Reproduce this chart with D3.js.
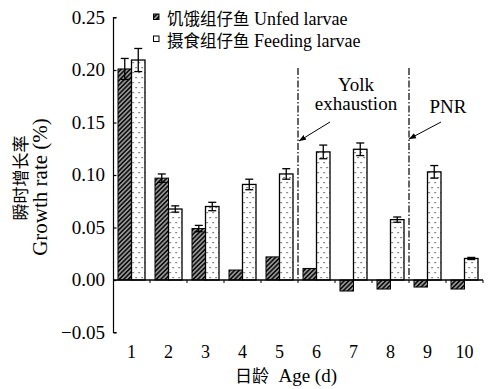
<!DOCTYPE html>
<meta charset="utf-8">
<style>
body { margin: 0; background: #fff; }
text { font-family: "Liberation Serif", "Times New Roman", serif; fill: #000; }
.cn { font-family: "Noto Sans CJK SC", sans-serif; }
</style>
<body>
<script src="https://d3js.org/d3.v7.min.js"></script>
<script>

var width = 490,
    height = 389;

// data
var days = [1, 2, 3, 4, 5, 6, 7, 8, 9, 10];
var unfed = [0.201, 0.097, 0.049, 0.0095, 0.022, 0.011, -0.0105, -0.0086, -0.0067, -0.0086];
var unfedErr = [0.010, 0.004, 0.003, 0, 0, 0, 0, 0, 0, 0];
var fed = [0.2095, 0.0676, 0.070, 0.091, 0.101, 0.122, 0.1245, 0.0575, 0.103, 0.0205];
var fedErr = [0.011, 0.003, 0.004, 0.005, 0.005, 0.0065, 0.006, 0.0025, 0.006, 0.001];
var yTicks = [-0.05, 0.00, 0.05, 0.10, 0.15, 0.20, 0.25];

var svg = d3.select("body").append("svg")
    .attr("width", width)
    .attr("height", height);

var defs = svg.append("defs");
var hatch = defs.append("pattern")
    .attr("id", "hatch")
    .attr("patternUnits", "userSpaceOnUse")
    .attr("width", 3.2).attr("height", 3.2)
    .attr("patternTransform", "rotate(45)");
hatch.append("rect").attr("width", 3.2).attr("height", 3.2).attr("fill", "#111");
hatch.append("line")
    .attr("x1", 1.6).attr("y1", 0).attr("x2", 1.6).attr("y2", 3.2)
    .attr("stroke", "#fff").attr("stroke-width", 0.9);

var dots = defs.append("pattern")
    .attr("id", "dots")
    .attr("patternUnits", "userSpaceOnUse")
    .attr("width", 6).attr("height", 10);
dots.append("rect").attr("width", 6).attr("height", 10).attr("fill", "#fff");
dots.append("rect").attr("x", 1).attr("y", 2).attr("width", 1.2).attr("height", 1.2).attr("fill", "#333");
dots.append("rect").attr("x", 4).attr("y", 7).attr("width", 1.2).attr("height", 1.2).attr("fill", "#333");

var marker = defs.append("marker")
    .attr("id", "arrow")
    .attr("viewBox", "0 0 10 10")
    .attr("refX", 10).attr("refY", 5)
    .attr("markerWidth", 7).attr("markerHeight", 7)
    .attr("markerUnits", "userSpaceOnUse")
    .attr("orient", "auto");
marker.append("path").attr("d", "M0,1 L10,5 L0,9 Z").attr("fill", "#000");

var x = d3.scaleBand().domain(days).range([113, 483]).padding(0);
var y = d3.scaleLinear().domain([-0.05, 0.25]).range([332.5, 17.5]);
var barW = 13.5;

// y axis
var yAxis = svg.append("g")
    .attr("transform", "translate(113.5,0)")
    .call(d3.axisRight(y).tickValues(yTicks).tickSize(3).tickFormat(""));
yAxis.select(".domain").attr("d", "M3," + y(0.25) + "H0V" + y(-0.05) + "H3");
yAxis.selectAll("line, path").attr("stroke", "#000").attr("stroke-width", 1.2);

svg.selectAll(".ylab")
  .data(yTicks)
  .enter().append("text")
    .attr("x", 105)
    .attr("y", function(d){ return y(d) + 6; })
    .attr("text-anchor", "end")
    .attr("font-size", 19)
    .text(function(d){ return d < 0 ? "\u2212" + d3.format(".2f")(-d) : d3.format(".2f")(d); });

// bars
var groups = svg.selectAll(".day")
  .data(days)
  .enter().append("g")
    .attr("transform", function(d){ return "translate(" + (x(d) + x.bandwidth() / 2) + ",0)"; });

groups.append("rect")
    .attr("x", -barW)
    .attr("y", function(d, i){ return y(Math.max(0, unfed[i])); })
    .attr("width", barW)
    .attr("height", function(d, i){ return Math.abs(y(unfed[i]) - y(0)); })
    .attr("fill", "url(#hatch)")
    .attr("stroke", "#000").attr("stroke-width", 1);

groups.append("rect")
    .attr("x", 0)
    .attr("y", function(d, i){ return y(fed[i]); })
    .attr("width", barW)
    .attr("height", function(d, i){ return y(0) - y(fed[i]); })
    .attr("fill", "url(#dots)")
    .attr("stroke", "#000").attr("stroke-width", 1.3);

function errBar(sel, vals, errs, cx) {
  sel.filter(function(d, i){ return errs[i] > 0; }).each(function(d){
    var i = days.indexOf(d), g = d3.select(this);
    var top = y(vals[i] + errs[i]), bot = y(vals[i] - errs[i]);
    g.append("line").attr("x1", cx).attr("x2", cx).attr("y1", top).attr("y2", bot);
    g.append("line").attr("x1", cx - 4).attr("x2", cx + 4).attr("y1", top).attr("y2", top);
    g.append("line").attr("x1", cx - 4).attr("x2", cx + 4).attr("y1", bot).attr("y2", bot);
  });
}
errBar(groups, unfed, unfedErr, -barW / 2);
errBar(groups, fed, fedErr, barW / 2);
groups.selectAll("line").attr("stroke", "#000").attr("stroke-width", 1.3);

// zero line with ticks at the band edges
svg.append("line")
    .attr("x1", 113).attr("x2", 483)
    .attr("y1", y(0)).attr("y2", y(0))
    .attr("stroke", "#000").attr("stroke-width", 1.4);
svg.selectAll(".xtk")
  .data(days)
  .enter().append("line")
    .attr("x1", function(d){ return x(d) + x.bandwidth(); })
    .attr("x2", function(d){ return x(d) + x.bandwidth(); })
    .attr("y1", y(0)).attr("y2", y(0) + 3)
    .attr("stroke", "#000").attr("stroke-width", 1);

// x labels
svg.selectAll(".xlab")
  .data(days)
  .enter().append("text")
    .attr("x", function(d){ return x(d) + x.bandwidth() / 2; })
    .attr("y", 358)
    .attr("text-anchor", "middle")
    .attr("font-size", 18)
    .text(function(d){ return d; });

var xt = svg.append("text").attr("x", 286).attr("y", 382).attr("text-anchor", "middle").attr("font-size", 19);
xt.append("tspan").attr("class", "cn").attr("font-size", 17).text("日龄");
xt.append("tspan").text("\u00a0 Age (d)");

// y titles
svg.append("text")
    .attr("class", "cn")
    .attr("transform", "translate(27,178) rotate(-90)")
    .attr("text-anchor", "middle")
    .attr("font-size", 17)
    .text("瞬时增长率");
svg.append("text")
    .attr("transform", "translate(47,187) rotate(-90)")
    .attr("text-anchor", "middle")
    .attr("font-size", 21)
    .text("Growth rate (%)");

// markers for yolk exhaustion and PNR
var lines = [5, 8];
svg.selectAll(".vline")
  .data(lines)
  .enter().append("line")
    .attr("x1", function(d){ return x(d) + x.bandwidth(); })
    .attr("x2", function(d){ return x(d) + x.bandwidth(); })
    .attr("y1", 68).attr("y2", y(0))
    .attr("stroke", "#000").attr("stroke-width", 1.2)
    .attr("stroke-dasharray", "7,2,1.5,2");

svg.append("line").attr("x1", 330).attr("y1", 122).attr("x2", 299).attr("y2", 141)
    .attr("stroke", "#000").attr("stroke-width", 1).attr("marker-end", "url(#arrow)");
svg.append("line").attr("x1", 441).attr("y1", 122).attr("x2", 409).attr("y2", 139)
    .attr("stroke", "#000").attr("stroke-width", 1).attr("marker-end", "url(#arrow)");

svg.append("text").attr("x", 356).attr("y", 91).attr("text-anchor", "middle").attr("font-size", 19).text("Yolk");
svg.append("text").attr("x", 356).attr("y", 110).attr("text-anchor", "middle").attr("font-size", 19).text("exhaustion");
svg.append("text").attr("x", 448).attr("y", 113).attr("text-anchor", "middle").attr("font-size", 19).text("PNR");

// legend
var legCn = ["饥饿组仔鱼", "摄食组仔鱼"];
var legEn = ["Unfed larvae", "Feeding larvae"];
var legFill = ["url(#hatch)", "#fff"];
var leg = svg.selectAll(".leg")
  .data(legEn)
  .enter().append("g")
    .attr("transform", function(d, i){ return "translate(153," + (i * 22) + ")"; });
leg.append("rect")
    .attr("x", 0.5).attr("y", 14)
    .attr("width", 5.5).attr("height", 5.5)
    .attr("fill", function(d, i){ return legFill[i]; })
    .attr("stroke", "#000").attr("stroke-width", 1);
var lt = leg.append("text").attr("x", 14).attr("y", 25).attr("font-size", 18);
lt.append("tspan").attr("class", "cn").attr("font-size", 16.5).text(function(d, i){ return legCn[i]; });
lt.append("tspan").text(function(d){ return " " + d; });

</script>
